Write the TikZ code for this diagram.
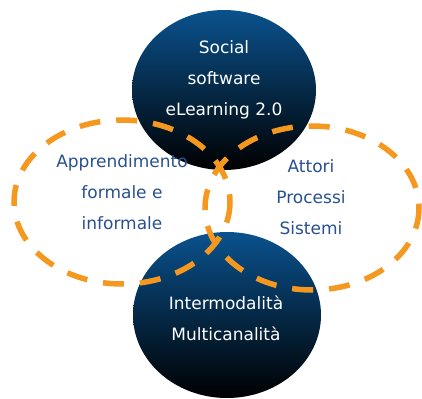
\documentclass[tikz,border=0pt]{standalone}
\usepackage{fontspec}
\setmainfont{DejaVu Sans}
\begin{document}
\begin{tikzpicture}[x=1pt,y=-1pt,
  ball/.style={draw=none, top color={rgb,255:red,10;green,82;blue,142}, middle color={rgb,255:red,8;green,66;blue,118}, bottom color=black},
  ring/.style={draw={rgb,255:red,245;green,152;blue,32}, line width=5.5pt, dash pattern=on 21pt off 16pt},
  whitetxt/.style={text=white, align=center, font=\fontsize{17}{31}\selectfont},
  bluetxt/.style={text={rgb,255:red,40;green,80;blue,145}, align=center, font=\fontsize{17}{31}\selectfont}]
\useasboundingbox (0,0) rectangle (422,398);
\shade[ball] (224,90) ellipse [x radius=92, y radius=80];
\shade[ball] (227,315) ellipse [x radius=94, y radius=83];
\draw[ring] (122,202) ellipse [x radius=108, y radius=82];
\draw[ring] (312,208) ellipse [x radius=107, y radius=82];
\node[whitetxt] (top) at (224,80) {Social\\software\\eLearning 2.0};
\node[whitetxt] (bot) at (226,318) {Intermodalità\\Multicanalità};
\node[bluetxt] (left) at (122,192) {Apprendimento\\formale e\\informale};
\node[bluetxt] (right) at (311,197) {Attori\\Processi\\Sistemi};
\end{tikzpicture}
\end{document}
